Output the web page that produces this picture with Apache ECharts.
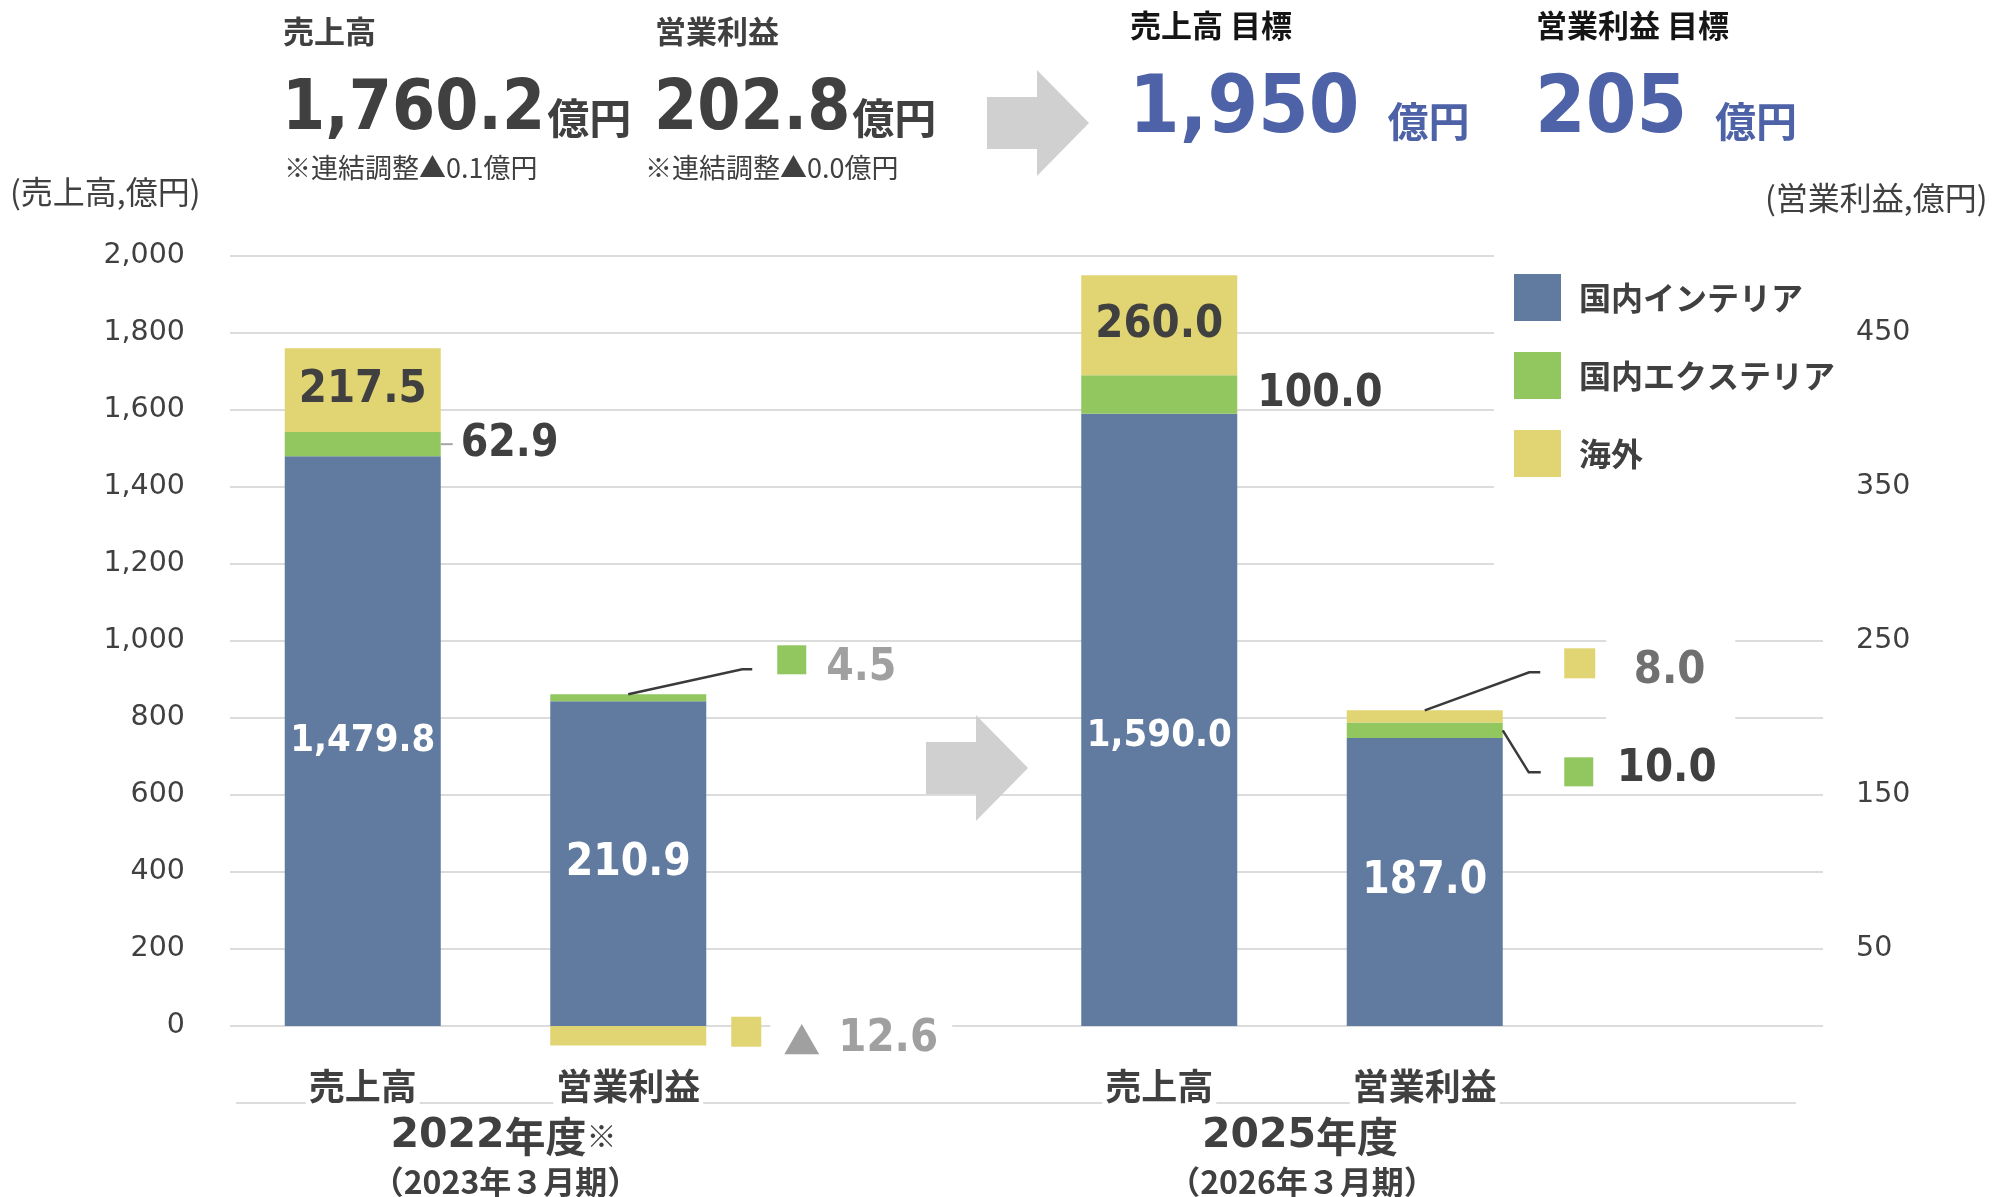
<!DOCTYPE html>
<html lang="ja">
<head>
<meta charset="utf-8">
<title>売上高・営業利益</title>
<script src="https://cdn.jsdelivr.net/npm/echarts@6.0.0/dist/echarts.min.js"></script>
<style>
  html, body { margin: 0; padding: 0; background: #ffffff; }
  #chart { width: 2015px; height: 1197px; }
</style>
</head>
<body>
<div id="chart"></div>
<script>
// ---- data (億円) ----
const categories = ['売上高', '営業利益', '', '売上高', '営業利益', ''];
const periods = ['2022年度', '2025年度'];
const periodMarks = ['※', ''];
const periodNotes = ['（2023年３月期）', '（2026年３月期）'];
const segmentNames = ['国内インテリア', '国内エクステリア', '海外'];

// 売上高 by segment: [2022年度, 2025年度]
const salesInterior = [1479.8, 1590.0];
const salesExterior = [62.9, 100.0];
const salesOverseas = [217.5, 260.0];
// 営業利益 by segment: [2022年度, 2025年度]
const profitInterior = [210.9, 187.0];
const profitExterior = [4.5, 10.0];
const profitOverseas = [-12.6, 8.0];

const adjustmentNotes = ['※連結調整▲0.1億円', '※連結調整▲0.0億円'];

// axis ticks
const salesTicks = [0, 200, 400, 600, 800, 1000, 1200, 1400, 1600, 1800, 2000];
const profitTicks = [50, 150, 250, 350, 450];

// category slot of each measure
const salesSlots = [0, 3];
const profitSlots = [1, 4];

// ---- styling ----
const COLORS = ['#617A9F', '#92C760', '#E1D472'];
const DARK = '#404040';
const TARGET_BLUE = '#4E62A8';
const FONT_JP = '"Noto Sans CJK JP", "Noto Sans CJK SC", sans-serif';
const FONT_NUM = '"DejaVu Sans Condensed", "DejaVu Sans", sans-serif';
const FONT_TICK = '"DejaVu Sans", sans-serif';
const BAR_WIDTH = 156;

const fmt = (v, d) => Math.abs(v).toLocaleString('en-US', { minimumFractionDigits: d, maximumFractionDigits: d });
const signed = v => (v < 0 ? '▲ ' : '') + fmt(v, 1);

const salesTotals = [0, 1].map(i => salesInterior[i] + salesExterior[i] + salesOverseas[i]);
const profitTotals = [0, 1].map(i => profitInterior[i] + profitExterior[i] + profitOverseas[i]);

// values placed into their category slots; labelOffsets nudges a label inside its bar
function slotData(values, slots, labelOffsets) {
  const d = categories.map(() => null);
  slots.forEach((s, i) => {
    d[s] = labelOffsets && labelOffsets[i]
      ? { value: values[i], label: { offset: labelOffsets[i] } }
      : values[i];
  });
  return d;
}

function numLabel(extra) {
  return Object.assign({
    show: true,
    fontFamily: FONT_NUM,
    fontWeight: 'bold',
    formatter: p => fmt(p.value, 1)
  }, extra);
}

const barBase = {
  type: 'bar',
  barWidth: BAR_WIDTH,
  barGap: '-100%',
  clip: false,
  silent: true,
  emphasis: { disabled: true }
};

const chart = echarts.init(document.getElementById('chart'), null, { renderer: 'canvas' });

chart.setOption({
  animation: false,
  backgroundColor: '#ffffff',
  textStyle: { fontFamily: FONT_JP },
  grid: { left: 230, right: 192, top: 256, bottom: 171, containLabel: false },
  legend: {
    data: segmentNames,
    orient: 'vertical',
    left: 1494,
    top: 244,
    icon: 'rect',
    itemWidth: 47,
    itemHeight: 47,
    itemGap: 31,
    selectedMode: false,
    backgroundColor: '#ffffff',
    padding: [30, 8, 95, 20],
    textStyle: {
      fontFamily: FONT_JP, fontWeight: 'bold', fontSize: 32, color: DARK,
      padding: [0, 0, 0, 13]
    }
  },
  xAxis: {
    type: 'category',
    data: categories,
    z: 5,
    axisLine: { show: false },
    axisTick: { show: false },
    axisLabel: {
      interval: 0,
      margin: 42,
      formatter: v => (v ? '{c|' + v + '}' : ''),
      rich: {
        c: {
          fontFamily: FONT_JP, fontWeight: 'bold', fontSize: 36, color: DARK,
          backgroundColor: '#ffffff', padding: [0, 3, 4, 3]
        }
      }
    }
  },
  yAxis: [
    {
      type: 'value',
      position: 'left',
      min: salesTicks[0],
      max: salesTicks[salesTicks.length - 1],
      interval: salesTicks[1] - salesTicks[0],
      axisLine: { show: false },
      axisTick: { show: false },
      axisLabel: {
        margin: 45,
        fontFamily: FONT_TICK, fontSize: 28.5, color: DARK,
        formatter: v => fmt(v, 0)
      },
      splitLine: { lineStyle: { color: '#dcdcdc', width: 2 } }
    },
    {
      type: 'value',
      position: 'right',
      min: 0,
      max: 500,
      interval: 50,
      axisLine: { show: false },
      axisTick: { show: false },
      splitLine: { show: false },
      axisLabel: {
        margin: 33,
        fontFamily: FONT_TICK, fontSize: 28.5, color: DARK,
        formatter: v => (profitTicks.indexOf(v) >= 0 ? String(v) : '')
      }
    }
  ],
  series: [
    Object.assign({}, barBase, {
      name: segmentNames[0], stack: 'sales', yAxisIndex: 0,
      itemStyle: { color: COLORS[0] },
      data: slotData(salesInterior, salesSlots, [null, [0, 16]]),
      label: numLabel({ position: 'inside', color: '#ffffff', fontSize: 38 })
    }),
    Object.assign({}, barBase, {
      name: segmentNames[1], stack: 'sales', yAxisIndex: 0,
      itemStyle: { color: COLORS[1] },
      data: slotData(salesExterior, salesSlots),
      label: numLabel({ position: 'right', distance: 20, color: DARK, fontSize: 44 })
    }),
    Object.assign({}, barBase, {
      name: segmentNames[2], stack: 'sales', yAxisIndex: 0,
      itemStyle: { color: COLORS[2] },
      data: slotData(salesOverseas, salesSlots),
      label: numLabel({ position: 'inside', color: DARK, fontSize: 45 })
    }),
    Object.assign({}, barBase, {
      name: segmentNames[0], stack: 'profit', yAxisIndex: 1,
      itemStyle: { color: COLORS[0] },
      data: slotData(profitInterior, profitSlots),
      label: numLabel({ position: 'inside', color: '#ffffff', fontSize: 44 })
    }),
    Object.assign({}, barBase, {
      name: segmentNames[1], stack: 'profit', yAxisIndex: 1,
      itemStyle: { color: COLORS[1] },
      data: slotData(profitExterior, profitSlots)
    }),
    Object.assign({}, barBase, {
      name: segmentNames[2], stack: 'profit', yAxisIndex: 1,
      itemStyle: { color: COLORS[2] },
      data: slotData(profitOverseas, profitSlots)
    })
  ]
});

// ---- annotations placed from the chart's own scales ----
const measureCtx = document.createElement('canvas').getContext('2d');
function textWidth(str, font) { measureCtx.font = font; return measureCtx.measureText(str).width; }

const xAt = slot => chart.convertToPixel({ xAxisIndex: 0 }, slot);
const ySales = v => chart.convertToPixel({ yAxisIndex: 0 }, v);
const yProfit = v => chart.convertToPixel({ yAxisIndex: 1 }, v);
const half = BAR_WIDTH / 2;

const G = [];
function text(x, y, str, font, fill, align) {
  G.push({
    type: 'text', x, y, z: 10, silent: true,
    style: { text: str, font, fill: fill || DARK, align: align || 'left', verticalAlign: 'middle' }
  });
}
function rect(x, y, w, h, fill, z) {
  G.push({ type: 'rect', z: z == null ? 10 : z, silent: true, shape: { x, y, width: w, height: h }, style: { fill } });
}
function poly(points, stroke, width) {
  G.push({ type: 'polyline', z: 10, silent: true, shape: { points }, style: { stroke, lineWidth: width, fill: null } });
}
function arrow(x0, yMid, fill) {
  G.push({
    type: 'polygon', z: 5, silent: true,
    shape: { points: [[x0, yMid - 26], [x0 + 50, yMid - 26], [x0 + 50, yMid - 53], [x0 + 102, yMid],
                      [x0 + 50, yMid + 53], [x0 + 50, yMid + 26], [x0, yMid + 26]] },
    style: { fill }
  });
}

// headline figures
function headline(x, label, value, unit) {
  text(x - 2, 31, label, `bold 31px ${FONT_JP}`, DARK);
  const numFont = `bold 69px ${FONT_NUM}`;
  text(x - 3, 111, value, numFont, DARK);
  text(x - 3 + textWidth(value, numFont) + 2, 118, unit, `bold 42px ${FONT_JP}`, DARK);
}
headline(285, '売上高', fmt(salesTotals[0], 1), '億円');
headline(657, '営業利益', fmt(profitTotals[0], 1), '億円');
text(284, 168, adjustmentNotes[0], `27px ${FONT_JP}`, DARK);
text(645, 168, adjustmentNotes[1], `27px ${FONT_JP}`, DARK);

function targetHeadline(x, label, value) {
  text(x - 2, 25, label, `bold 31px ${FONT_JP}`, '#151515');
  const numFont = `bold 81px ${FONT_NUM}`;
  text(x - 3, 111, value, numFont, TARGET_BLUE);
  text(x - 3 + textWidth(value, numFont) + 28, 121, '億円', `bold 41px ${FONT_JP}`, TARGET_BLUE);
}
targetHeadline(1132, '売上高 目標', fmt(salesTotals[1], 0));
targetHeadline(1538, '営業利益 目標', fmt(profitTotals[1], 0));

arrow(987, 123, '#D0D0D0');
arrow(926, 768, '#D0D0D0');

// axis titles
text(10, 192, '(売上高,億円)', `32px ${FONT_JP}`, DARK);
text(1765, 198, '(営業利益,億円)', `32px ${FONT_JP}`, DARK);

// line under the category labels
G.push({ type: 'line', z: 0, silent: true, shape: { x1: 236, y1: 1103, x2: 1796, y2: 1103 },
         style: { stroke: '#dcdcdc', lineWidth: 2 } });

// fiscal-year group labels
[0, 1].forEach(i => {
  const mid = (xAt(salesSlots[i]) + xAt(profitSlots[i])) / 2 + 8;
  G.push({
    type: 'text', x: mid, y: 1136, z: 10, silent: true,
    style: {
      text: '{y|' + periods[i].replace('年度', '') + '}{k|年度}' + (periodMarks[i] ? '{m|' + periodMarks[i] + '}' : ''),
      align: 'center', verticalAlign: 'middle',
      rich: {
        y: { fontFamily: '"DejaVu Sans", sans-serif', fontWeight: 'bold', fontSize: 41, fill: DARK },
        k: { fontFamily: FONT_JP, fontWeight: 'bold', fontSize: 41, fill: DARK },
        m: { fontFamily: FONT_JP, fontSize: 30, fill: DARK }
      }
    }
  });
  text(mid + 2, 1182, periodNotes[i], `bold 32px ${FONT_JP}`, DARK, 'center');
});

// small tick from the 2022 exterior sales segment to its value
{
  const x = xAt(salesSlots[0]) + half;
  const y = ySales(salesInterior[0] + salesExterior[0] / 2);
  poly([[x, y], [x + 12, y]], '#a6a6a6', 2);
}

// 2022 exterior profit callout
{
  const ax = xAt(profitSlots[0]);
  const ay = yProfit(profitInterior[0] + profitExterior[0]);
  poly([[ax, ay], [ax + 114, ay - 25], [ax + 124, ay - 25]], '#3a3a3a', 2.5);
  rect(ax + 149, ay - 49, 29, 29, COLORS[1]);
  text(ax + 198, ay - 26, signed(profitExterior[0]), `bold 44px ${FONT_NUM}`, '#a0a0a0');
}

// 2022 overseas profit callout (negative)
{
  const ax = xAt(profitSlots[0]) + half;
  const ay = yProfit(profitOverseas[0] / 2);
  rect(ax + 64, ay - 20, 182, 44, '#ffffff', 1);
  rect(ax + 25, ay - 19, 30, 30, COLORS[2]);
  text(ax + 77, ay + 5, '▲', `37px ${FONT_JP}`, '#a0a0a0');
  text(ax + 132, ay + 4, fmt(profitOverseas[0], 1), `bold 45px ${FONT_NUM}`, '#a0a0a0');
}

// 2025 overseas profit callout
{
  const ax = xAt(profitSlots[1]);
  const ay = yProfit(profitInterior[1] + profitExterior[1] + profitOverseas[1]);
  poly([[ax, ay], [ax + 104.5, ay - 38], [ax + 115.5, ay - 38]], '#3a3a3a', 2.5);
  rect(ax + 181.5, ay - 75, 129, 88, '#ffffff', 1);
  rect(ax + 139.5, ay - 62, 31, 30, COLORS[2]);
  text(ax + 209, ay - 39, signed(profitOverseas[1]), `bold 45px ${FONT_NUM}`, '#707070');
}

// 2025 exterior profit callout
{
  const ax = xAt(profitSlots[1]) + half;
  const ay = yProfit(profitInterior[1] + profitExterior[1] / 2);
  poly([[ax, ay], [ax + 26, ay + 42], [ax + 38, ay + 42]], '#3a3a3a', 2.5);
  rect(ax + 103.5, ay - 14, 123, 72, '#ffffff', 1);
  rect(ax + 61.5, ay + 27, 29, 29, COLORS[1]);
  text(ax + 114, ay + 39, signed(profitExterior[1]), `bold 45px ${FONT_NUM}`, DARK);
}

chart.setOption({ graphic: G });
</script>
</body>
</html>
